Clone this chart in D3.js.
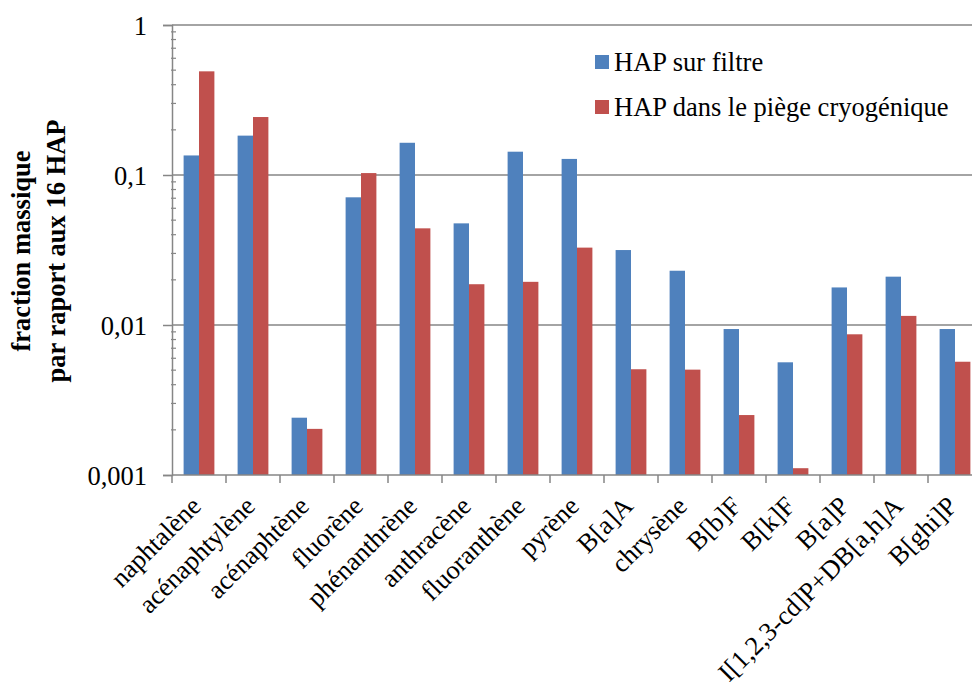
<!DOCTYPE html>
<html>
<head>
<meta charset="utf-8">
<script src="https://cdn.jsdelivr.net/npm/d3@7"></script>
<style>
  html, body { margin: 0; padding: 0; background: #fff; }
  svg { display: block; font-family: "Liberation Serif", "Times New Roman", serif; }
</style>
</head>
<body>
<svg id="chart" width="972" height="682"></svg>
<script>
const categories = ["naphtalène", "acénaphtylène", "acénaphtène", "fluorène", "phénanthrène",
  "anthracène", "fluoranthène", "pyrène", "B[a]A", "chrysène", "B[b]F", "B[k]F", "B[a]P",
  "I[1,2,3-cd]P+DB[a,h]A", "B[ghi]P"];
const seriesNames = ["HAP sur filtre", "HAP dans le piège cryogénique"];
const filtre = [0.135, 0.183, 0.00241, 0.0710, 0.164, 0.0476, 0.143, 0.128, 0.0316, 0.0230, 0.0094, 0.00564, 0.0178, 0.0210, 0.0094];
const piege  = [0.491, 0.2435, 0.00203, 0.103, 0.0441, 0.0187, 0.0194, 0.0328, 0.00507, 0.00504, 0.00251, 0.00111, 0.00867, 0.0115, 0.00569];
const yTicks = [1, 0.1, 0.01, 0.001];
const yTickLabels = ["1", "0,1", "0,01", "0,001"];
const colors = ["#4F81BD", "#C0504D"];

(function () {
const svg = d3.select("#chart");
const pL = 172, pR = 982, pT = 25, pB = 475;
const fs = 26.5;

const x0 = d3.scaleBand().domain(categories).range([pL, pR]).paddingInner(0.43).paddingOuter(0.215);
const x1 = d3.scaleBand().domain([0, 1]).range([0, x0.bandwidth()]);
const y = d3.scaleLog().domain([0.001, 1]).range([pB, pT]);

// gridlines
svg.append("g").selectAll("line").data(yTicks.slice(0, 3)).join("line")
  .attr("x1", pL).attr("x2", 972)
  .attr("y1", d => y(d)).attr("y2", d => y(d))
  .attr("stroke", "#868686").attr("stroke-width", 1.5);

// bars
const data = categories.map((c, i) => ({c, v: [filtre[i], piege[i]]}));
const g = svg.append("g").selectAll("g").data(data).join("g")
  .attr("transform", d => `translate(${x0(d.c)},0)`);
g.selectAll("rect").data(d => d.v.map((v, k) => ({v, k}))).join("rect")
  .attr("x", d => x1(d.k))
  .attr("width", x1.bandwidth())
  .attr("y", d => y(d.v))
  .attr("height", d => y(0.001) - y(d.v))
  .attr("fill", d => colors[d.k]);

// y axis
const yAxis = d3.axisLeft(y).tickValues(yTicks).tickSize(9).tickFormat((d, i) => yTickLabels[i]);
const ya = svg.append("g").attr("transform", `translate(${pL},0)`).call(yAxis);
ya.select(".domain").attr("stroke", "#868686").attr("stroke-width", 1.5);
ya.selectAll(".tick line").attr("stroke", "#868686").attr("stroke-width", 1.5);
ya.selectAll(".tick text").attr("font-size", fs).attr("font-family", "Liberation Serif, Times New Roman, serif")
  .attr("fill", "#000").attr("x", -25).attr("dy", "0.35em");

// minor ticks
const minor = [];
[0.001, 0.01, 0.1].forEach(b => { for (let m = 2; m <= 9; m++) minor.push(b * m); });
svg.append("g").selectAll("line").data(minor).join("line")
  .attr("x1", pL - 1).attr("x2", pL + 4)
  .attr("y1", d => y(d)).attr("y2", d => y(d))
  .attr("stroke", "#868686").attr("stroke-width", 1.2);

// x axis
svg.append("line").attr("x1", pL).attr("x2", 972).attr("y1", pB).attr("y2", pB)
  .attr("stroke", "#868686").attr("stroke-width", 1.5);
const bounds = categories.map(c => x0(c) - x0.step() * x0.paddingInner() / 2);
bounds.push(bounds[bounds.length - 1] + x0.step());
svg.append("g").selectAll("line").data(bounds).join("line")
  .attr("x1", d => d).attr("x2", d => d).attr("y1", pB).attr("y2", pB + 8)
  .attr("stroke", "#868686").attr("stroke-width", 1.5);

// x labels
svg.append("g").selectAll("text").data(categories).join("text")
  .attr("transform", d => `translate(${x0(d) + x0.bandwidth() / 2 - 3},${pB + 26}) rotate(-45)`)
  .attr("text-anchor", "end").attr("dy", "0.35em")
  .attr("font-size", fs).attr("fill", "#000")
  .text(d => d);

// y title
const yt = svg.append("text").attr("transform", `translate(30,251) rotate(-90)`)
  .attr("text-anchor", "middle").attr("font-size", fs).attr("font-weight", "bold").attr("fill", "#000");
yt.append("tspan").attr("x", 0).attr("y", 0).text("fraction massique");
yt.append("tspan").attr("x", 0).attr("y", 35).text("par raport aux 16 HAP");

// legend
const lg = svg.append("g").selectAll("g").data(seriesNames).join("g")
  .attr("transform", (d, i) => `translate(595,${62 + i * 45})`);
lg.append("rect").attr("x", 0).attr("y", -7).attr("width", 14).attr("height", 14)
  .attr("fill", (d, i) => colors[i]);
lg.append("text").attr("x", 19).attr("y", 0).attr("dy", "0.35em")
  .attr("font-size", fs).attr("fill", "#000").text(d => d);
})();
</script>
</body>
</html>
